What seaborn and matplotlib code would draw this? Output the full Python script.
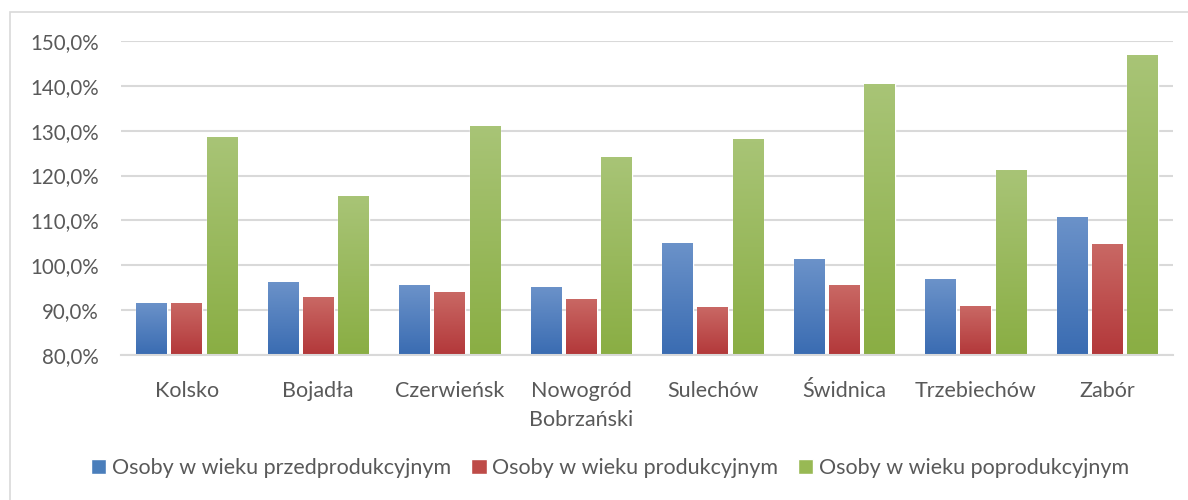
import matplotlib
matplotlib.use("Agg")
import matplotlib.pyplot as plt
import seaborn as sns
import pandas as pd
import numpy as np
from matplotlib.patches import Rectangle
from matplotlib.colors import LinearSegmentedColormap
from matplotlib.ticker import FuncFormatter, MultipleLocator

categories = ["Kolsko", "Bojadła", "Czerwieńsk", "Nowogród\nBobrzański", "Sulechów",
              "Świdnica", "Trzebiechów", "Zabór"]
series = ["Osoby w wieku przedprodukcyjnym", "Osoby w wieku produkcyjnym",
          "Osoby w wieku poprodukcyjnym"]
przedprodukcyjny = [91.6, 96.3, 95.6, 95.2, 105.0, 101.4, 96.9, 110.8]
produkcyjny = [91.6, 92.9, 94.0, 92.5, 90.7, 95.6, 90.9, 104.7]
poprodukcyjny = [128.6, 115.4, 131.0, 124.1, 128.1, 140.4, 121.2, 146.9]
colors = ["#4A7EBB", "#BE4B48", "#98B954"]
grad_top = ["#6B92C9", "#C96864", "#A8C476"]
grad_bottom = ["#3A6CB2", "#B3383A", "#8AAE44"]
y_min, y_max = 80, 150

rows = []
for s, vals in zip(series, [przedprodukcyjny, produkcyjny, poprodukcyjny]):
    for c, v in zip(categories, vals):
        rows.append({"gmina": c, "seria": s, "wartosc": v})
df = pd.DataFrame(rows)

sns.set_theme(style="white")
plt.rcParams["font.family"] = ["Lato", "DejaVu Sans"]

fig = plt.figure(figsize=(11.88, 5.0), dpi=100)
ax = fig.add_axes([121 / 1188, 1 - 355 / 500, (1173 - 121) / 1188, (355 - 41) / 500])

sns.barplot(data=df, x="gmina", y="wartosc", hue="seria", palette=colors,
            saturation=1, width=0.8, gap=0.13, ax=ax, legend=True, zorder=3,
            errorbar=None)

xlim = ax.get_xlim()
# gradient overlay on each bar (clipped to the bar patches drawn by seaborn)
n = len(categories)
bars = [p for p in ax.patches if isinstance(p, Rectangle) and p.get_height() > 0][:3 * n]
grad = np.linspace(0, 1, 64).reshape(-1, 1)
for i, p in enumerate(bars):
    k = i // n
    cmap = LinearSegmentedColormap.from_list("g", [grad_bottom[k], grad_top[k]])
    x0 = p.get_x()
    top = p.get_y() + p.get_height()
    im = ax.imshow(grad, extent=[x0, x0 + p.get_width(), y_min, top],
                   origin="lower", aspect="auto", cmap=cmap, zorder=3.5,
                   interpolation="bilinear")
    im.set_clip_path(p)
ax.set_xlim(xlim)

ax.set_ylim(y_min, y_max)
ax.yaxis.set_major_locator(MultipleLocator(10))
ax.yaxis.set_major_formatter(FuncFormatter(lambda v, p: f"{v:.1f}%".replace(".", ",")))
ax.grid(axis="y", color="#D9D9D9", linewidth=1.5, zorder=0)
ax.set_axisbelow(True)
for side in ["top", "right", "left"]:
    ax.spines[side].set_visible(False)
ax.spines["bottom"].set_color("#D9D9D9")
ax.spines["bottom"].set_linewidth(1.5)
ax.spines["bottom"].set_zorder(4)
ax.set_xlabel("")
ax.set_ylabel("")
ax.tick_params(axis="y", labelsize=14.8, colors="#595959", pad=16, length=0)
ax.tick_params(axis="x", labelsize=15.5, colors="#595959", pad=19, length=0)
for lab in ax.get_xticklabels():
    lab.set_linespacing(1.55)

ax.legend(loc="center", bbox_to_anchor=(0.465, -0.36), ncol=3, frameon=False,
          fontsize=15.5, handlelength=0.7, handleheight=0.7, handletextpad=0.25,
          columnspacing=0.95, labelcolor="#595959")

fig.patches.append(Rectangle((10 / 1188, -0.05), 1.2, 1 - 12 / 500 + 0.05,
                             transform=fig.transFigure, fill=False,
                             edgecolor="#D9D9D9", linewidth=1.2))

fig.savefig("out.png", dpi=100, facecolor="white")
